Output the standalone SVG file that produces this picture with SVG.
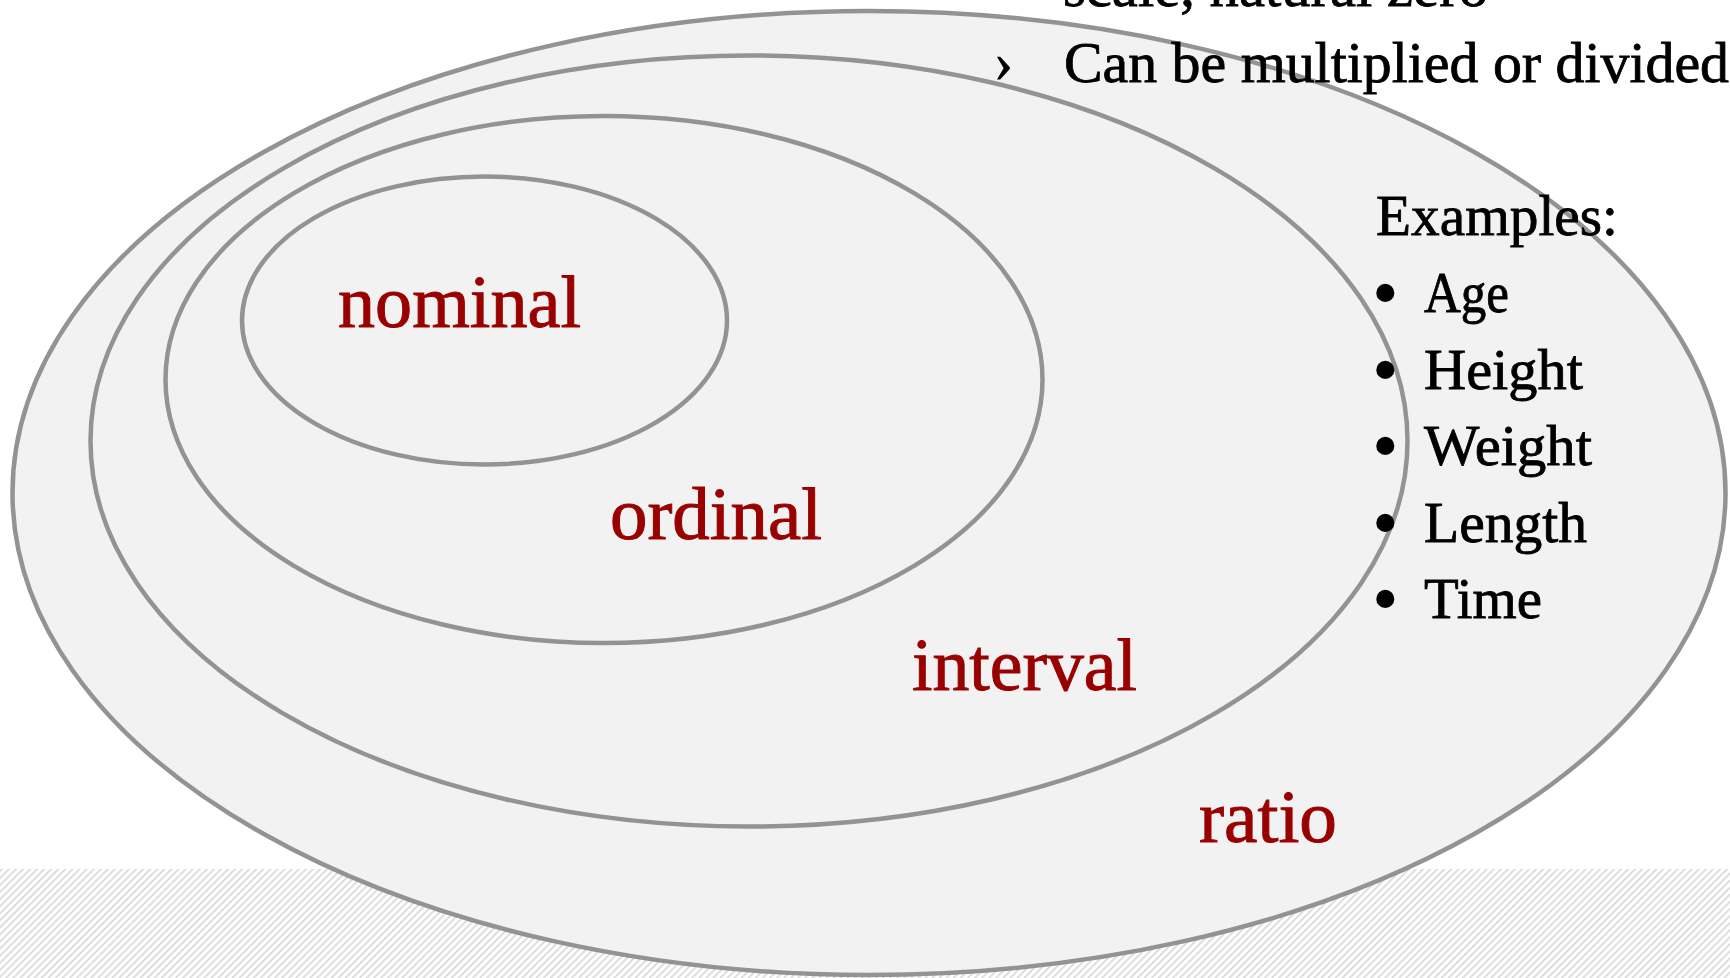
<svg xmlns="http://www.w3.org/2000/svg" width="1730" height="978" viewBox="0 0 1730 978">
<defs>
<pattern id="hatch" width="5" height="5" patternUnits="userSpaceOnUse" patternTransform="rotate(45)">
<rect width="5" height="5" fill="#ffffff"/>
<rect x="0" y="0" width="1.6" height="5" fill="#d6d6d6"/>
</pattern>
<style>
.ring{fill:#f2f2f2;stroke:#939393;stroke-width:4.5}
.lab{font-family:"Liberation Serif","Times New Roman",serif;font-size:75px;fill:#990000;stroke:#990000;stroke-width:1}
.body{font-family:"Liberation Serif","Times New Roman",serif;font-size:57px;fill:#000000;stroke:#000000;stroke-width:0.8}
.dot{font-family:"Liberation Serif","Times New Roman",serif;font-size:76px;fill:#000000}
</style>
</defs>
<rect x="0" y="0" width="1730" height="978" fill="#ffffff"/>
<rect x="0" y="869" width="1730" height="109" fill="url(#hatch)"/>
<g id="ratio">
<ellipse class="ring" cx="869" cy="493" rx="856.5" ry="482"/>
<text class="lab" x="1199" y="842" textLength="138" lengthAdjust="spacingAndGlyphs">ratio</text>
</g>
<g id="interval">
<ellipse class="ring" cx="749" cy="441" rx="658.5" ry="385.5"/>
<text class="lab" x="912" y="690" textLength="225" lengthAdjust="spacingAndGlyphs">interval</text>
</g>
<g id="ordinal">
<ellipse class="ring" cx="604" cy="379.5" rx="438.5" ry="263.5"/>
<text class="lab" x="610" y="539" textLength="212" lengthAdjust="spacingAndGlyphs">ordinal</text>
</g>
<g id="nominal">
<ellipse class="ring" cx="484.5" cy="320.5" rx="242.5" ry="144"/>
<text class="lab" x="338" y="327" textLength="243" lengthAdjust="spacingAndGlyphs">nominal</text>
</g>
<g id="connectors"/>
<g id="ratio-notes">
<text class="body" x="1063" y="6" textLength="425" lengthAdjust="spacingAndGlyphs">scale, natural zero</text>
<text class="body" x="994" y="81" font-size="40">›</text>
<text class="body" x="1064" y="82" textLength="665" lengthAdjust="spacingAndGlyphs">Can be multiplied or divided</text>
</g>
<g id="examples">
<text class="body" x="1376" y="235" textLength="242" lengthAdjust="spacingAndGlyphs">Examples:</text>
<text class="dot" x="1372" y="318">•</text>
<text class="body" x="1424" y="312" textLength="85" lengthAdjust="spacingAndGlyphs">Age</text>
<text class="dot" x="1372" y="395">•</text>
<text class="body" x="1424" y="389" textLength="159" lengthAdjust="spacingAndGlyphs">Height</text>
<text class="dot" x="1372" y="471">•</text>
<text class="body" x="1424" y="465" textLength="168" lengthAdjust="spacingAndGlyphs">Weight</text>
<text class="dot" x="1372" y="548">•</text>
<text class="body" x="1424" y="542" textLength="163" lengthAdjust="spacingAndGlyphs">Length</text>
<text class="dot" x="1372" y="624">•</text>
<text class="body" x="1424" y="618" textLength="118" lengthAdjust="spacingAndGlyphs">Time</text>
</g>
</svg>
